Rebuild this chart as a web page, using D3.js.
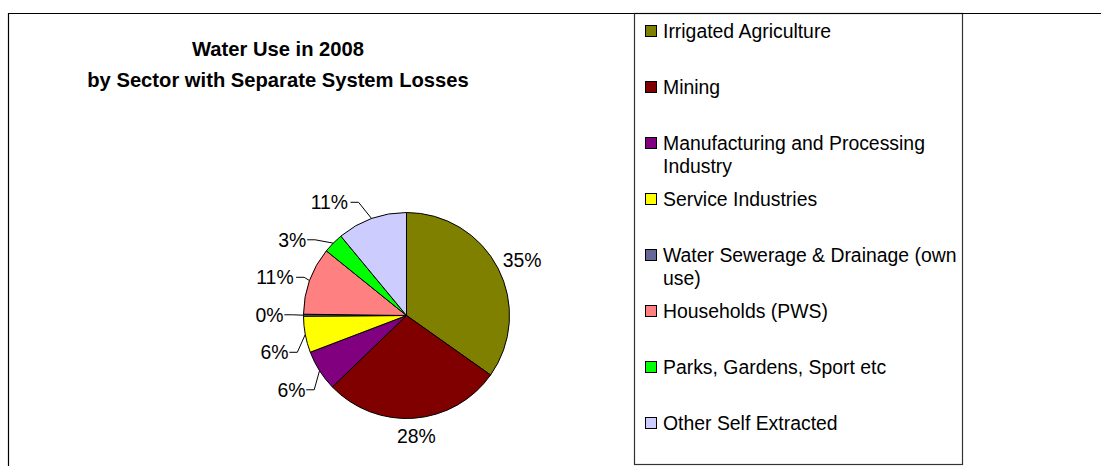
<!DOCTYPE html>
<html>
<head>
<meta charset="utf-8">
<script src="https://cdn.jsdelivr.net/npm/d3@7"></script>
<style>
  html, body { margin: 0; padding: 0; background: #fff; }
  svg { display: block; }
  text { font-family: "Liberation Sans", Arial, sans-serif; fill: #000; }
</style>
</head>
<body>
<svg id="chart" width="1101" height="466"></svg>
<script>
// Water use by sector, 2008 (percent of total)
const sectors = [
  "Irrigated Agriculture",
  "Mining",
  "Manufacturing and Processing Industry",
  "Service Industries",
  "Water Sewerage & Drainage (own use)",
  "Households (PWS)",
  "Parks, Gardens, Sport etc",
  "Other Self Extracted"
];
const shares = [34.8, 28.0, 6.4, 5.7, 0.3, 10.6, 3.2, 11.0];
const sectorColors = ["#808000", "#800000", "#800080", "#FFFF00", "#666699", "#FF8080", "#00FF00", "#CCCCFF"];
const titleLines = ["Water Use in 2008", "by Sector with Separate System Losses"];

const svg = d3.select("#chart");
const W = 1101, H = 466;
const FONT = 19.4;

// outer chart frame (top and left edges visible)
svg.append("path")
  .attr("d", `M8.5,${H} V13.5 H${W}`)
  .attr("fill", "none").attr("stroke", "#000").attr("stroke-width", 1.2);

// title
const title = svg.append("text")
  .attr("text-anchor", "middle")
  .attr("font-weight", "bold")
  .attr("font-size", 20.2);
titleLines.forEach((t, i) => {
  title.append("tspan").attr("x", 278).attr("y", 56 + i * 31).text(t);
});

// pie
const cx = 406.5, cy = 315.5, R = 103;
const pie = d3.pie().sort(null).value(d => d.v).startAngle(0).endAngle(2 * Math.PI);
const arcs = pie(sectors.map((s, i) => ({ name: s, v: shares[i], color: sectorColors[i] })));
const arc = d3.arc().innerRadius(0).outerRadius(R);

const g = svg.append("g").attr("transform", `translate(${cx},${cy})`);
g.selectAll("path.slice").data(arcs).join("path")
  .attr("class", "slice")
  .attr("d", arc)
  .attr("fill", d => d.data.color)
  .attr("stroke", "#000")
  .attr("stroke-width", 1)
  .attr("stroke-linejoin", "round");

// data labels: outside end, left-side labels spread apart vertically
const fmt = v => Math.round(v) + "%";
const lab = arcs.map(a => {
  const m = (a.startAngle + a.endAngle) / 2;
  const ux = Math.sin(m), uy = -Math.cos(m);
  const txt = fmt(a.data.v);
  const hw = txt.length * FONT * 0.33, hh = FONT * 0.5;
  const px = ux * R, py = uy * R;
  const x0 = px + ux * 8 + ux * hw, y0 = py + uy * 8 + uy * hh;
  return { a, m, ux, uy, txt, hw, px, py, x0, y0, x: x0, y: y0 };
});

// spread labels on the left half
const left = lab.filter(d => d.ux < -0.3).sort((p, q) => p.y - q.y);
const gap = 37.5;
for (let it = 0; it < 200; it++) {
  for (let i = 1; i < left.length; i++) {
    const d = left[i].y - left[i - 1].y;
    if (d < gap) {
      const s = (gap - d) / 2;
      left[i - 1].y -= s; left[i].y += s;
    }
  }
}
const RL = 137, drop = 6;
left.forEach(d => {
  d.y += drop;
  const dy = Math.max(-RL + 1, Math.min(RL - 1, d.y));
  d.x = -Math.sqrt(RL * RL - dy * dy);
  d.moved = Math.hypot(d.x - d.x0, d.y - d.y0) > 7;
});

const lg = g.append("g");
lab.forEach(d => {
  lg.append("text")
    .attr("x", d.x).attr("y", d.y + FONT * 0.35)
    .attr("text-anchor", "middle")
    .attr("font-size", FONT)
    .text(d.txt);
  if (d.moved) {
    const sx = d.x + d.hw + 2;
    lg.append("path")
      .attr("d", `M${sx},${d.y} H${sx + 8} L${d.px},${d.py}`)
      .attr("fill", "none").attr("stroke", "#000").attr("stroke-width", 1);
  }
});

// legend box
const LX = 634.5, LY = 13.5, LR = 962.5, LB = 464.5;
svg.append("rect")
  .attr("x", LX).attr("y", LY).attr("width", LR - LX).attr("height", LB - LY)
  .attr("fill", "#fff").attr("stroke", "#333").attr("stroke-width", 1.2);
svg.append("line")
  .attr("x1", LX).attr("x2", W).attr("y1", LY).attr("y2", LY)
  .attr("stroke", "#000").attr("stroke-width", 1.2);

const slot = 56, firstY = 31, lineH = 23.5, maxW = 300;
const leg = svg.append("g");
sectors.forEach((name, i) => {
  const yc = firstY + i * slot;
  leg.append("rect")
    .attr("x", 645.5).attr("y", yc - 5.5).attr("width", 11).attr("height", 11)
    .attr("fill", sectorColors[i]).attr("stroke", "#000").attr("stroke-width", 1);
  const t = leg.append("text").attr("font-size", FONT);
  // word wrap to the legend width
  const words = name.split(" ");
  let line = [], n = 0;
  let ts = t.append("tspan").attr("x", 663).attr("y", yc + FONT * 0.35);
  words.forEach(w => {
    line.push(w);
    ts.text(line.join(" "));
    if (ts.node().getComputedTextLength() > maxW && line.length > 1) {
      line.pop();
      ts.text(line.join(" "));
      line = [w];
      n++;
      ts = t.append("tspan").attr("x", 663).attr("y", yc + FONT * 0.35 + n * lineH).text(w);
    }
  });
});
</script>
</body>
</html>
